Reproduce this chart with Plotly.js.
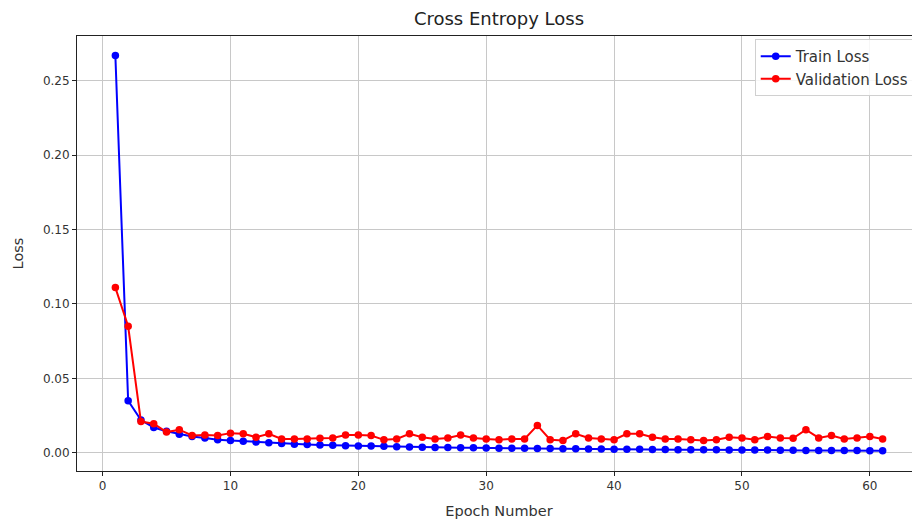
<!DOCTYPE html>
<html>
<head>
<meta charset="utf-8">
<script src="https://cdn.plot.ly/plotly-3.0.1.min.js"></script>
<style>
html, body { margin: 0; padding: 0; overflow: hidden; background: #fff; }
#chart { width: 960px; height: 521px; }
</style>
</head>
<body>
<div id="chart"></div>
<script>
const epochs = [1,2,3,4,5,6,7,8,9,10,11,12,13,14,15,16,17,18,19,20,21,22,23,24,25,26,27,28,29,30,31,32,33,34,35,36,37,38,39,40,41,42,43,44,45,46,47,48,49,50,51,52,53,54,55,56,57,58,59,60,61];
const trainLoss = [0.267,0.035,0.022,0.017,0.0145,0.0125,0.011,0.010,0.0088,0.0083,
  0.0078,0.0072,0.0067,0.0062,0.0058,0.0055,0.0052,0.0050,0.0047,0.0046,
  0.0045,0.0043,0.0041,0.0039,0.0037,0.0036,0.0035,0.0034,0.0033,0.0032,
  0.0031,0.0030,0.0030,0.0029,0.0028,0.0027,0.0027,0.0026,0.0025,0.0024,
  0.0023,0.0023,0.0022,0.0022,0.0021,0.0021,0.0020,0.0020,0.0019,0.0019,
  0.0018,0.0018,0.0017,0.0017,0.0016,0.0016,0.0016,0.0015,0.0015,0.0014,0.0014];
const valLoss = [0.111,0.085,0.021,0.0195,0.0139,0.0155,0.0116,0.012,0.0116,0.0132,
  0.0128,0.0105,0.0128,0.0093,0.0093,0.0093,0.0097,0.010,0.012,0.012,
  0.0116,0.0087,0.0093,0.0128,0.0105,0.0093,0.010,0.012,0.010,0.0093,
  0.0088,0.0093,0.0093,0.0184,0.0088,0.0083,0.0128,0.010,0.0093,0.0088,
  0.0128,0.0128,0.0105,0.0093,0.0093,0.0088,0.0083,0.0088,0.0105,0.010,
  0.0088,0.011,0.010,0.0097,0.0155,0.010,0.0116,0.0093,0.010,0.011,0.0093];
const xTicks = [0,10,20,30,40,50,60];
const yTicks = [0,0.05,0.10,0.15,0.20,0.25];
const yTickLabels = ["0.00","0.05","0.10","0.15","0.20","0.25"];

const font = "DejaVu Sans, sans-serif";
const data = [
  {x: epochs, y: trainLoss, name: "Train Loss", type: "scatter", mode: "lines+markers",
   line: {color: "#0000ff", width: 2}, marker: {color: "#0000ff", size: 7.5}},
  {x: epochs, y: valLoss, name: "Validation Loss", type: "scatter", mode: "lines+markers",
   line: {color: "#ff0000", width: 2}, marker: {color: "#ff0000", size: 7.5}}
];
const layout = {
  width: 960, height: 521,
  margin: {l: 77, r: 39, t: 36, b: 50},
  paper_bgcolor: "#fff", plot_bgcolor: "#fff",
  font: {family: font, size: 12, color: "#333"},
  title: {text: "Cross Entropy Loss", font: {family: font, size: 18, color: "#222"}, x: 0.5, xanchor: "center", y: 0.965, yanchor: "middle", xref: "paper"},
  xaxis: {
    range: [-2, 64], tickvals: xTicks, ticktext: xTicks.map(String),
    showgrid: true, gridcolor: "#c8c8c8", gridwidth: 1,
    zeroline: false, showline: true, linecolor: "#222", linewidth: 1, mirror: true,
    ticks: "outside", ticklen: 4, tickcolor: "#222",
    title: {text: "Epoch Number", font: {family: font, size: 14.5, color: "#333"}, standoff: 13}
  },
  yaxis: {
    range: [-0.01225, 0.2801], tickvals: yTicks, ticktext: yTickLabels,
    showgrid: true, gridcolor: "#c8c8c8", gridwidth: 1,
    zeroline: false, showline: true, linecolor: "#222", linewidth: 1, mirror: true,
    ticks: "outside", ticklen: 4, tickcolor: "#222",
    title: {text: "Loss", font: {family: font, size: 14.5, color: "#333"}, standoff: 15}
  },
  legend: {x: 0.803, xanchor: "left", y: 0.993, yanchor: "top",
    bgcolor: "rgba(255,255,255,0.85)", bordercolor: "#d0d0d0", borderwidth: 1,
    font: {family: font, size: 15, color: "#333"}, tracegroupgap: 0},
  showlegend: true
};
Plotly.newPlot("chart", data, layout, {displayModeBar: false, staticPlot: true});
</script>
</body>
</html>
